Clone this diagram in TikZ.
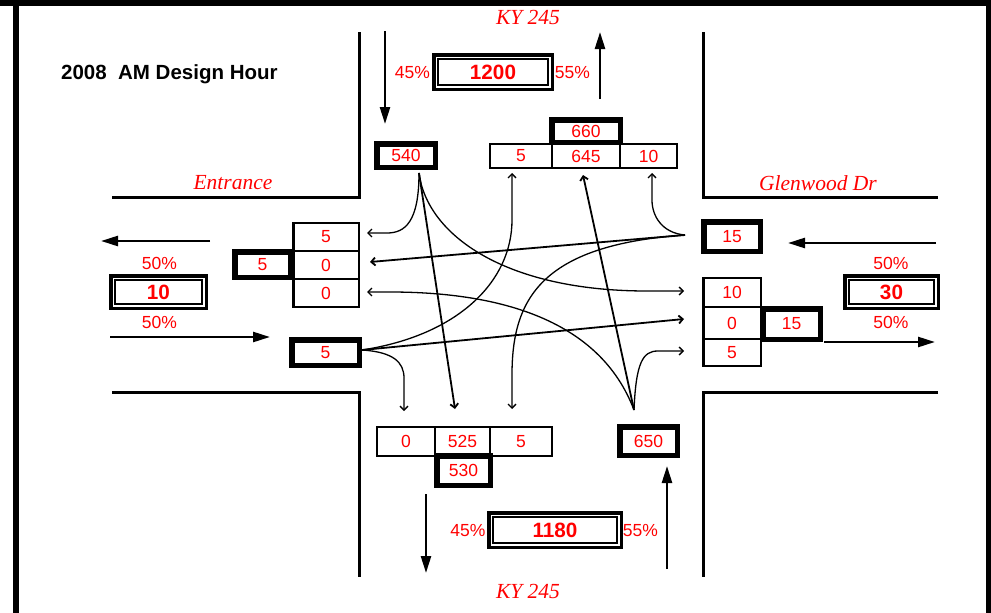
\documentclass[tikz,border=0pt]{standalone}
\usepackage{fontspec}
\setmainfont{Liberation Sans}
\newfontfamily\serifit{Liberation Serif}
\usetikzlibrary{arrows.meta}
\begin{document}
\begin{tikzpicture}[x=1pt,y=-1pt,
  road/.style={line width=3pt},
  cell/.style={draw,line width=2.5pt,inner sep=0pt,outer sep=0pt,text=red,font=\fontsize{17.5}{17.5}\selectfont},
  tot/.style={cell,line width=5.5pt},
  dbl/.style={draw,line width=3.5pt,inner sep=0pt,outer sep=0pt,text=red,font=\fontsize{20.7}{20.7}\selectfont\bfseries},
  pct/.style={text=red,font=\fontsize{17.5}{17.5}\selectfont,inner sep=0pt},
  street/.style={text=red,font=\fontsize{21.5}{21.5}\selectfont\serifit\itshape,inner sep=0pt},
  main/.style={line width=2.5pt,-{Triangle[length=17pt,width=10pt]}},
  mv/.style={line width=1.3pt,-{Straight Barb[length=4pt,width=8pt]}},
  thru/.style={mv,line width=1.8pt},
]
\useasboundingbox (0,0) rectangle (991,613);
% frame
\fill (0,0) rectangle (991,6);
\fill (13,0) rectangle (19,613);
\fill (986,0) rectangle (991,613);
% road edges
\draw[road] (359,32) -- (359,197) -- (112,197);
\draw[road] (703,32) -- (703,197) -- (938,197);
\draw[road] (112,392) -- (359,392) -- (359,577);
\draw[road] (938,392) -- (703,392) -- (703,577);
% title and street names
\node[anchor=base west,inner sep=0pt,font=\fontsize{20.5}{20.5}\selectfont\bfseries] (title) at (61,79) {2008\ \ AM Design Hour};
\node[street] (kyn) at (528,17.5) {KY 245};
\node[street] (kys) at (528,591) {KY 245};
\node[street] (ent) at (233,183) {Entrance};
\node[street] (glen) at (818,183) {Glenwood Dr};
% main approach arrows
\coordinate (a1s) at (385,31);  \coordinate (a1e) at (385,124);
\coordinate (a2s) at (600,99);  \coordinate (a2e) at (600,32);
\coordinate (a3s) at (210,241); \coordinate (a3e) at (101,241);
\coordinate (a4s) at (110,337); \coordinate (a4e) at (270,337);
\coordinate (a5s) at (936,243); \coordinate (a5e) at (788,243);
\coordinate (a6s) at (824,342); \coordinate (a6e) at (935,342);
\coordinate (a7s) at (426,494); \coordinate (a7e) at (426,573);
\coordinate (a8s) at (667,569); \coordinate (a8e) at (667,466);
\foreach \i in {1,...,8} \draw[main] (a\i s) -- (a\i e);
% totals (double boxes)
\node[dbl,minimum width=118.5pt,minimum height=34.5pt] (b1200) at (493,72) {1200};
\node[dbl,minimum width=95.5pt,minimum height=32.5pt] (b10) at (158.5,292) {10};
\node[dbl,minimum width=93.5pt,minimum height=32.5pt] (b30) at (891.5,292) {30};
\node[dbl,minimum width=132.5pt,minimum height=34.5pt] (b1180) at (555,530) {1180};
\foreach \n in {b1200,b10,b30,b1180}
  \draw[line width=2pt] ([shift={(4.25,4.25)}]\n.north west) rectangle ([shift={(-4.25,-4.25)}]\n.south east);
% percentages
\node[pct] (p1) at (412.5,72.5) {45\%};
\node[pct] (p2) at (572.5,73) {55\%};
\node[pct] (p3) at (159.5,263.5) {50\%};
\node[pct] (p4) at (159.5,322) {50\%};
\node[pct] (p5) at (891,263.5) {50\%};
\node[pct] (p6) at (891,322) {50\%};
\node[pct] (p7) at (468,531) {45\%};
\node[pct] (p8) at (640.5,531) {55\%};
% north approach cells
\node[tot,minimum width=58.5pt,minimum height=23.5pt] (n540) at (406,155.5) {540};
\node[cell,minimum width=62pt,minimum height=24pt] (n5) at (521,156) {5};
\node[cell,minimum width=68pt,minimum height=24pt] (n645) at (586,156) {645};
\node[cell,minimum width=57pt,minimum height=24pt] (n10) at (648.5,156) {10};
\node[tot,minimum width=68.5pt,minimum height=22.5pt] (n660) at (586,131) {660};
% west approach cells
\node[cell,minimum width=65.5pt,minimum height=28pt] (w5) at (326,237) {5};
\node[cell,minimum width=65.5pt,minimum height=28pt] (w0a) at (326,265) {0};
\node[cell,minimum width=65.5pt,minimum height=28pt] (w0b) at (326,293) {0};
\node[tot,minimum width=55.5pt,minimum height=25.5pt] (wtot) at (262.5,264.5) {5};
\node[tot,minimum width=67.5pt,minimum height=25.5pt] (win) at (325.5,352.5) {5};
% east approach cells
\node[tot,minimum width=56.5pt,minimum height=29.5pt] (ein) at (732,236.5) {15};
\node[cell,minimum width=57.5pt,minimum height=29pt] (e10) at (732,292.5) {10};
\node[cell,minimum width=57.5pt,minimum height=32pt] (e0) at (732,323) {0};
\node[cell,minimum width=57.5pt,minimum height=27pt] (e5) at (732,352.5) {5};
\node[tot,minimum width=57.5pt,minimum height=30.5pt] (etot) at (791.5,324) {15};
% south approach cells
\node[cell,minimum width=58pt,minimum height=29pt] (s0) at (406,441.5) {0};
\node[cell,minimum width=55pt,minimum height=29pt] (s525) at (462.5,441.5) {525};
\node[cell,minimum width=62pt,minimum height=29pt] (s5) at (521,441.5) {5};
\node[tot,minimum width=53.5pt,minimum height=29.5pt] (s530) at (463.5,470.5) {530};
\node[tot,minimum width=57.5pt,minimum height=28.5pt] (sin) at (648.5,441) {650};
% movement origins and tips
\coordinate (oN) at (419,173);
\coordinate (oE) at (685,235);
\coordinate (oS) at (634,410);
\coordinate (oW) at (362,350);
\coordinate (tNr) at (367,233); \coordinate (tNt) at (455,409); \coordinate (tNl) at (684,291);
\coordinate (tEr) at (652,173); \coordinate (tEt) at (370,262); \coordinate (tEl) at (512,409);
\coordinate (tSr) at (684,351); \coordinate (tSt) at (583,175); \coordinate (tSl) at (367,292);
\coordinate (tWr) at (404,411); \coordinate (tWt) at (684,319); \coordinate (tWl) at (512,173);
% southbound movements
\draw[mv] (oN) .. controls (419,222) and (405,233) .. (387,233) -- (tNr);
\draw[thru] (oN) -- (tNt);
\draw[mv] (oN) .. controls (427,235) and (505,291) .. (647,291) -- (tNl);
% westbound movements
\draw[mv] (oE) .. controls (662,233) and (652,216) .. (652,200) -- (tEr);
\draw[thru] (oE) -- (tEt);
\draw[mv] (oE) .. controls (540,245) and (512,300) .. (512,375) -- (tEl);
% northbound movements
\draw[thru] (oS) -- (tSt);
\draw[mv] (oS) .. controls (636,362) and (643,351) .. (658,351) -- (tSr);
\draw[mv] (oS) .. controls (600,320) and (500,292) .. (390,292) -- (tSl);
% eastbound movements
\draw[mv] (oW) .. controls (393,352) and (404,362) .. (404,378) -- (tWr);
\draw[thru] (oW) -- (tWt);
\draw[mv] (oW) .. controls (460,335) and (512,280) .. (512,220) -- (tWl);
\end{tikzpicture}
\end{document}
